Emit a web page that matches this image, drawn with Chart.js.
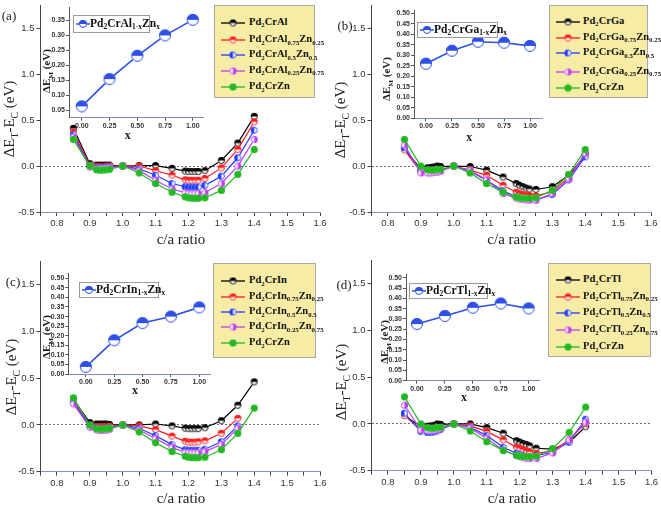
<!DOCTYPE html>
<html><head><meta charset="utf-8">
<script src="https://cdn.jsdelivr.net/npm/chart.js@4.4.1/dist/chart.umd.min.js"></script>
<style>
html,body{margin:0;padding:0;background:#fff}
#root{position:relative;width:661px;height:507px;overflow:hidden;background:#fff}
canvas{position:absolute}
.lbl{position:absolute;white-space:nowrap;transform:translate(-50%,-50%);font-family:"Liberation Serif","Times New Roman",serif;color:#222;line-height:1}
.rot{transform:translate(-50%,-50%) rotate(-90deg)}
sub{font-size:65%;vertical-align:baseline;position:relative;top:0.38em;line-height:0}
.leg{position:absolute;background:#f7eca6;border:1px solid #a8a8a8;box-sizing:border-box}
.row{position:absolute;white-space:nowrap;font:bold 10.5px "Liberation Serif",serif;color:#111;line-height:1}
.ileg{position:absolute;background:#fff;border:1px solid #9a9a9a;box-sizing:border-box}
.itxt{position:absolute;white-space:nowrap;font:bold 11.5px "Liberation Serif",serif;color:#111;line-height:1}
</style></head>
<body><div id="root"></div>
<script>
// ---------------- DATA ----------------
const caRatio = [0.85,0.90,0.92,0.93,0.94,0.95,0.96,1.00,1.05,1.10,1.15,1.19,1.20,1.21,1.22,1.23,1.25,1.30,1.35,1.40];

const pd2CrZn = [0.29,0.00,-0.04,-0.045,-0.045,-0.04,-0.035,0,-0.075,-0.19,-0.285,-0.335,-0.345,-0.35,-0.35,-0.35,-0.345,-0.265,-0.09,0.18];

// (a) Pd2CrAl(1-x)Zn(x)
const alX000 = [0.41,0.025,0.01,0.01,0.01,0.01,0.01,0,0.005,0.005,-0.025,-0.055,-0.06,-0.06,-0.06,-0.06,-0.05,0.06,0.25,0.54];
const alX025 = [0.37,0.01,-0.005,-0.01,-0.01,-0.005,0.0,0,0.0,-0.05,-0.10,-0.15,-0.155,-0.155,-0.155,-0.155,-0.135,-0.02,0.18,0.48];
const alX050 = [0.34,0.0,-0.02,-0.02,-0.02,-0.015,-0.01,0,-0.03,-0.10,-0.19,-0.225,-0.23,-0.23,-0.23,-0.23,-0.21,-0.11,0.09,0.39];
const alX075 = [0.315,-0.01,-0.03,-0.03,-0.03,-0.025,-0.02,0,-0.05,-0.155,-0.25,-0.29,-0.30,-0.30,-0.30,-0.30,-0.29,-0.19,0.0,0.29];

// (b) Pd2CrGa(1-x)Zn(x)
const gaX000 = [0.185,-0.03,-0.02,-0.015,-0.01,0.0,-0.005,0,-0.005,-0.045,-0.12,-0.19,-0.21,-0.225,-0.24,-0.25,-0.255,-0.225,-0.10,0.115];
const gaX025 = [0.175,-0.065,-0.07,-0.07,-0.065,-0.06,-0.05,0,-0.045,-0.10,-0.21,-0.285,-0.30,-0.31,-0.315,-0.32,-0.325,-0.28,-0.12,0.13];
const gaX050 = [0.20,-0.055,-0.07,-0.07,-0.065,-0.06,-0.05,0,-0.06,-0.155,-0.27,-0.335,-0.345,-0.355,-0.36,-0.365,-0.37,-0.31,-0.15,0.10];
const gaX075 = [0.23,-0.075,-0.075,-0.075,-0.07,-0.065,-0.055,0,-0.05,-0.15,-0.30,-0.35,-0.36,-0.365,-0.37,-0.37,-0.37,-0.30,-0.14,0.14];

// (c) Pd2CrIn(1-x)Zn(x)
const inX000 = [0.275,0.025,0.01,0.01,0.01,0.01,0.005,0,0.0,0.01,-0.01,-0.035,-0.04,-0.04,-0.04,-0.04,-0.03,0.045,0.21,0.46];
const inX025 = [0.25,-0.005,-0.02,-0.02,-0.02,-0.02,-0.015,0,-0.01,-0.05,-0.12,-0.175,-0.185,-0.185,-0.185,-0.18,-0.17,-0.09,0.07,null];
const inX050 = [0.24,-0.01,-0.035,-0.04,-0.04,-0.035,-0.03,0,-0.035,-0.115,-0.21,-0.265,-0.27,-0.27,-0.27,-0.27,-0.26,-0.18,-0.01,null];
const inX075 = [0.225,-0.025,-0.055,-0.06,-0.06,-0.055,-0.045,0,-0.055,-0.145,-0.24,-0.295,-0.30,-0.30,-0.30,-0.30,-0.285,-0.21,-0.035,null];

// (d) Pd2CrTl(1-x)Zn(x)
const tlX000 = [0.09,-0.03,-0.025,-0.02,-0.015,0.0,-0.005,0,0.0,-0.04,-0.10,-0.18,-0.195,-0.21,-0.22,-0.235,-0.26,-0.27,-0.195,-0.03];
const tlX025 = [0.09,-0.065,-0.075,-0.075,-0.07,-0.06,-0.05,0,-0.02,-0.08,-0.17,-0.25,-0.26,-0.275,-0.29,-0.30,-0.315,-0.29,-0.17,0.01];
const tlX050 = [0.115,-0.08,-0.09,-0.09,-0.085,-0.075,-0.06,0,-0.035,-0.125,-0.25,-0.315,-0.325,-0.34,-0.35,-0.355,-0.34,-0.30,-0.19,0.05];
const tlX075 = [0.20,-0.065,-0.07,-0.07,-0.065,-0.06,-0.05,0,-0.045,-0.155,-0.28,-0.34,-0.35,-0.36,-0.37,-0.37,-0.37,-0.31,-0.17,0.02];

// insets: Delta E_M vs x
const xComposition = [0, 0.25, 0.50, 0.75, 1.00];
const dEmAl = [0.063, 0.154, 0.232, 0.300, 0.352];
const dEmGa = [0.260, 0.322, 0.365, 0.360, 0.345];
const dEmIn = [0.037, 0.176, 0.266, 0.300, 0.348];
const dEmTl = [0.275, 0.314, 0.354, 0.375, 0.351];

// ticks
const mainXTicks = [0.75,0.80,0.85,0.90,0.95,1.00,1.05,1.10,1.15,1.20,1.25,1.30,1.35,1.40,1.45,1.50,1.55,1.60];
const mainYTicks = [-0.5,0.0,0.5,1.0,1.5];
const insetXTicks = [0.00,0.25,0.50,0.75,1.00];
const insetYTicksAl = [0.05,0.10,0.15,0.20,0.25,0.30,0.35];
const insetYTicksOther = [0.00,0.05,0.10,0.15,0.20,0.25,0.30,0.35,0.40,0.45,0.50];

// labels
const legendAl = ['Pd<sub>2</sub>CrAl','Pd<sub>2</sub>CrAl<sub>0.75</sub>Zn<sub>0.25</sub>','Pd<sub>2</sub>CrAl<sub>0.5</sub>Zn<sub>0.5</sub>','Pd<sub>2</sub>CrAl<sub>0.25</sub>Zn<sub>0.75</sub>','Pd<sub>2</sub>CrZn'];
const legendGa = ['Pd<sub>2</sub>CrGa','Pd<sub>2</sub>CrGa<sub>0.75</sub>Zn<sub>0.25</sub>','Pd<sub>2</sub>CrGa<sub>0.5</sub>Zn<sub>0.5</sub>','Pd<sub>2</sub>CrGa<sub>0.25</sub>Zn<sub>0.75</sub>','Pd<sub>2</sub>CrZn'];
const legendIn = ['Pd<sub>2</sub>CrIn','Pd<sub>2</sub>CrIn<sub>0.75</sub>Zn<sub>0.25</sub>','Pd<sub>2</sub>CrIn<sub>0.5</sub>Zn<sub>0.5</sub>','Pd<sub>2</sub>CrIn<sub>0.25</sub>Zn<sub>0.75</sub>','Pd<sub>2</sub>CrZn'];
const legendTl = ['Pd<sub>2</sub>CrTl','Pd<sub>2</sub>CrTl<sub>0.75</sub>Zn<sub>0.25</sub>','Pd<sub>2</sub>CrTl<sub>0.5</sub>Zn<sub>0.5</sub>','Pd<sub>2</sub>CrTl<sub>0.25</sub>Zn<sub>0.75</sub>','Pd<sub>2</sub>CrZn'];
const insetNames = ['Pd<sub>2</sub>CrAl<sub>1-x</sub>Zn<sub>x</sub>','Pd<sub>2</sub>CrGa<sub>1-x</sub>Zn<sub>x</sub>','Pd<sub>2</sub>CrIn<sub>1-x</sub>Zn<sub>x</sub>','Pd<sub>2</sub>CrTl<sub>1-x</sub>Zn<sub>x</sub>'];
const panelTags = ['(a)','(b)','(c)','(d)'];

// ---------------- STYLE ----------------
const seriesColors = ['#000000','#ff1a1a','#1f3cff','#c23cf0','#22b822'];
const seriesFills = ['top','top','left','right','full'];
const insetColor = '#2e50e6';
const root = document.getElementById('root');

function marker(color, fill, d) {
  const c = document.createElement('canvas');
  const s = Math.ceil(d + 2); c.width = s; c.height = s;
  const g = c.getContext('2d'); const r = d/2, cx = s/2, cy = s/2;
  g.beginPath(); g.arc(cx,cy,r,0,2*Math.PI); g.fillStyle = '#fff'; g.fill();
  g.fillStyle = color;
  if (fill === 'full') { g.beginPath(); g.arc(cx,cy,r,0,2*Math.PI); g.fill(); }
  else {
    const a = {top:[Math.PI,2*Math.PI], bottom:[0,Math.PI], left:[Math.PI/2,3*Math.PI/2], right:[-Math.PI/2,Math.PI/2]}[fill];
    g.beginPath(); g.moveTo(cx,cy); g.arc(cx,cy,r,a[0],a[1]); g.closePath(); g.fill();
  }
  g.beginPath(); g.arc(cx,cy,r-0.5,0,2*Math.PI); g.lineWidth = 1; g.strokeStyle = color; g.stroke();
  return c;
}
const mainMarkers = seriesColors.map((c,i)=>marker(c, seriesFills[i], 7));
const insetMarker = marker(insetColor, 'top', 12);

function addCanvas(x,y,w,h,parent){
  const cv = document.createElement('canvas');
  cv.width = w; cv.height = h; cv.style.left = x+'px'; cv.style.top = y+'px';
  cv.style.width = w+'px'; cv.style.height = h+'px';
  (parent || root).appendChild(cv); return cv;
}
function addText(html, x, y, size, opts={}) {
  const d = document.createElement('div');
  d.className = 'lbl' + (opts.rot ? ' rot' : '');
  d.style.left = x+'px'; d.style.top = y+'px'; d.style.fontSize = size+'px';
  if (opts.bold) d.style.fontWeight = 'bold';
  d.innerHTML = html; root.appendChild(d); return d;
}
function fixAxis(size, horiz){
  return s => { if (horiz) s.height = size; else s.width = size;
    s.paddingTop = 0; s.paddingBottom = 0; s.paddingLeft = 0; s.paddingRight = 0; };
}
const isMult = (v, step) => Math.abs(v/step - Math.round(v/step)) < 1e-6;

function mainChart(p, series) {
  const cv = addCanvas(p.cx, p.cy, p.cw, p.ch);
  const a = p.area;
  new Chart(cv, {
    type: 'line',
    data: { datasets: series.map((s,i)=>({
      data: caRatio.map((x,j)=>({x:x, y:s[j]})).filter(d=>d.y!==null),
      borderColor: seriesColors[i], backgroundColor: seriesColors[i], borderWidth: 1.2,
      pointStyle: mainMarkers[i], pointRadius: 3, tension: 0, fill: false
    })).reverse() },
    options: {
      responsive: false, animation: false, devicePixelRatio: 1,
      layout: { padding: { left: a.l - p.cx - p.yw, top: a.t - p.cy, right: p.cx + p.cw - a.r, bottom: 0 } },
      plugins: { legend: {display:false}, tooltip: {enabled:false} },
      scales: {
        x: { type:'linear', min:0.75, max:1.6,
          afterBuildTicks: s => { s.ticks = mainXTicks.map(v=>({value:v})); },
          afterFit: fixAxis(p.cy + p.ch - a.b, true),
          ticks: { autoSkip:false, maxRotation:0, padding:2, color:'#333',
            font:{family:'"Liberation Sans", Arial, sans-serif', size:9.5},
            callback: v => isMult(v,0.1) ? v.toFixed(1) : '' },
          grid: { drawOnChartArea:false, tickLength:4, tickColor:'#444' },
          border: { color:'#8a90c8', width:1 } },
        y: { type:'linear', min:-0.5, max:1.75,
          afterBuildTicks: s => { s.ticks = mainYTicks.map(v=>({value:v})); },
          afterFit: fixAxis(p.yw, false),
          ticks: { autoSkip:false, padding:2, color:'#333', font:{family:'"Liberation Sans", Arial, sans-serif', size:9.5},
            callback: v => v.toFixed(1) },
          grid: { drawOnChartArea:true, tickLength:4, tickColor:'#444', lineWidth:1,
            color: c => (c.tick && Math.abs(c.tick.value) < 1e-9) ? '#6c6c88' : 'rgba(0,0,0,0)' },
          border: { color:'#444', width:1, dash:[2,2] } }
      }
    }
  });
}

function insetChart(p, values, yTicks) {
  const cv = addCanvas(p.cx, p.cy, p.cw, p.ch);
  const a = p.area;
  new Chart(cv, {
    type: 'line',
    data: { datasets: [{
      data: xComposition.map((x,j)=>({x:x, y:values[j]})),
      borderColor: insetColor, backgroundColor: insetColor, borderWidth: 1.6,
      pointStyle: insetMarker, pointRadius: 6, tension: 0
    }] },
    options: {
      responsive: false, animation: false, devicePixelRatio: 1,
      layout: { padding: { left: a.l - p.cx - p.yw, top: a.t - p.cy, right: p.cx + p.cw - a.r, bottom: 0 } },
      plugins: { legend: {display:false}, tooltip: {enabled:false} },
      scales: {
        x: { type:'linear', min:p.xr[0], max:p.xr[1],
          afterBuildTicks: s => { s.ticks = insetXTicks.map(v=>({value:v})); },
          afterFit: fixAxis(p.cy + p.ch - a.b, true),
          ticks: { autoSkip:false, maxRotation:0, padding:1, color:'#333',
            font:{family:'"Liberation Sans", Arial, sans-serif', size:7, weight:'bold'},
            callback: v => v.toFixed(2) },
          grid: { drawOnChartArea:false, tickLength:3, tickColor:'#555' },
          border: { color:'#7f88c4', width:1 } },
        y: { type:'linear', min:p.yr[0], max:p.yr[1],
          afterBuildTicks: s => { s.ticks = yTicks.map(v=>({value:v})); },
          afterFit: fixAxis(p.yw, false),
          ticks: { autoSkip:false, padding:1, color:'#333', font:{family:'"Liberation Sans", Arial, sans-serif', size:7, weight:'bold'},
            callback: v => v.toFixed(2) },
          grid: { drawOnChartArea:false, tickLength:3, tickColor:'#555' },
          border: { color:'#555', width:1 } }
      }
    }
  });
}

function legendBox(box, names) {
  const d = document.createElement('div'); d.className = 'leg';
  d.style.left = box.x+'px'; d.style.top = box.y+'px'; d.style.width = box.w+'px'; d.style.height = box.h+'px';
  root.appendChild(d);
  names.forEach((n,i)=>{
    const cy = box.rows[i];
    const sw = addCanvas(box.lx - box.x - 1, cy - box.y - 5 - 1, 24, 10, d);
    const g = sw.getContext('2d');
    g.strokeStyle = seriesColors[i]; g.lineWidth = 1.3;
    g.beginPath(); g.moveTo(0,5); g.lineTo(24,5); g.stroke();
    const m = mainMarkers[i]; g.drawImage(m, 12 - m.width/2, 5 - m.height/2);
    const t = document.createElement('div'); t.className = 'row';
    t.style.left = (box.tx - box.x - 1)+'px'; t.style.top = (cy - box.y - 6 - 1)+'px';
    t.innerHTML = n; d.appendChild(t);
  });
}

function insetLegend(b, name) {
  const d = document.createElement('div'); d.className = 'ileg';
  d.style.left = b.x+'px'; d.style.top = b.y+'px'; d.style.width = b.w+'px'; d.style.height = b.h+'px';
  root.appendChild(d);
  const cy = b.h/2 - 1;
  const sw = addCanvas(2, cy - 5, 14, 10, d);
  const g = sw.getContext('2d');
  g.strokeStyle = insetColor; g.lineWidth = 1.5; g.beginPath(); g.moveTo(0,5); g.lineTo(14,5); g.stroke();
  const m = marker(insetColor,'top',8); g.drawImage(m, 7 - m.width/2, 5 - m.height/2);
  const t = document.createElement('div'); t.className = 'itxt';
  t.style.left = '16px'; t.style.top = (cy - 6.5)+'px'; t.innerHTML = name; d.appendChild(t);
}

// ---------------- LAYOUT ----------------
const panels = [
  { main:{cx:0,cy:0,cw:330,ch:250,yw:36,area:{l:40.5,t:2.75,r:320,b:212}},
    inset:{cx:45,cy:0,cw:170,ch:130,yw:24,area:{l:69,t:3.3,r:203.3,b:117.7},xr:[-0.115,1.095],yr:[0.025,0.393]},
    series:[alX000,alX025,alX050,alX075,pd2CrZn], dem:dEmAl, yt:insetYTicksAl, names:legendAl,
    leg:{x:214,y:5,w:101,h:93,lx:221,tx:249,rows:[22.7,40,55,70.7,87.3]},
    ileg:{x:73,y:15,w:77,h:18},
    tag:[9,15], xt:[181,239], yt2:[9,119], ixt:[127.7,135], iyt:[46,71] },
  { main:{cx:330,cy:0,cw:331,ch:250,yw:36,area:{l:371.5,t:1.6,r:651,b:212}},
    inset:{cx:385,cy:0,cw:165,ch:132,yw:29,area:{l:414,t:10,r:542,b:118.3},xr:[-0.115,1.115],yr:[0,0.516]},
    series:[gaX000,gaX025,gaX050,gaX075,pd2CrZn], dem:dEmGa, yt:insetYTicksOther, names:legendGa,
    leg:{x:549,y:5,w:99,h:93,lx:556,tx:583,rows:[21.7,37.7,53.3,71.7,88.3]},
    ileg:{x:417,y:22,w:81,h:16},
    tag:[345,25], xt:[511.7,239], yt2:[340,120], ixt:[469.3,136.7], iyt:[385.5,79] },
  { main:{cx:0,cy:250,cw:330,ch:257,yw:36,area:{l:40.5,t:261.3,r:320,b:471.7}},
    inset:{cx:45,cy:255,cw:175,ch:135,yw:23,area:{l:68.3,t:273.3,r:210,b:374},xr:[-0.155,1.095],yr:[0,0.526]},
    series:[inX000,inX025,inX050,inX075,pd2CrZn], dem:dEmIn, yt:insetYTicksOther, names:legendIn,
    leg:{x:213,y:263,w:103,h:95,lx:221,tx:249,rows:[281,296.7,312,327.3,343.3]},
    ileg:{x:79,y:282,w:80,h:16},
    tag:[13,281], xt:[181,498], yt2:[11,377], ixt:[135,390], iyt:[45.5,337] },
  { main:{cx:330,cy:250,cw:331,ch:257,yw:36,area:{l:371.5,t:260.3,r:651.5,b:470.7}},
    inset:{cx:378,cy:255,cw:172,ch:140,yw:28,area:{l:406,t:274,r:539.3,b:380.7},xr:[-0.098,1.095],yr:[0,0.518]},
    series:[tlX000,tlX025,tlX050,tlX075,pd2CrZn], dem:dEmTl, yt:insetYTicksOther, names:legendTl,
    leg:{x:548,y:263,w:103,h:94,lx:556,tx:583,rows:[280,296.7,312.7,330,347.3]},
    ileg:{x:409,y:283,w:79,h:16},
    tag:[344,284], xt:[512,498], yt2:[341,382], ixt:[464,396.7], iyt:[383.5,342] }
];

panels.forEach((p,i)=>{
  mainChart(p.main, p.series);
  insetChart(p.inset, p.dem, p.yt);
  legendBox(p.leg, p.names);
  insetLegend(p.ileg, insetNames[i]);
  addText(panelTags[i], p.tag[0], p.tag[1], 13);
  addText('c/a ratio', p.xt[0], p.xt[1], 15);
  addText('&Delta;E<sub>T</sub>-E<sub>C</sub> (eV)', p.yt2[0], p.yt2[1], 15, {rot:true});
  addText('x', p.ixt[0], p.ixt[1], 12, {bold:true});
  addText('&Delta;E<sub>M</sub> (eV)', p.iyt[0], p.iyt[1], 11, {rot:true, bold:true});
});
</script>
</body></html>
